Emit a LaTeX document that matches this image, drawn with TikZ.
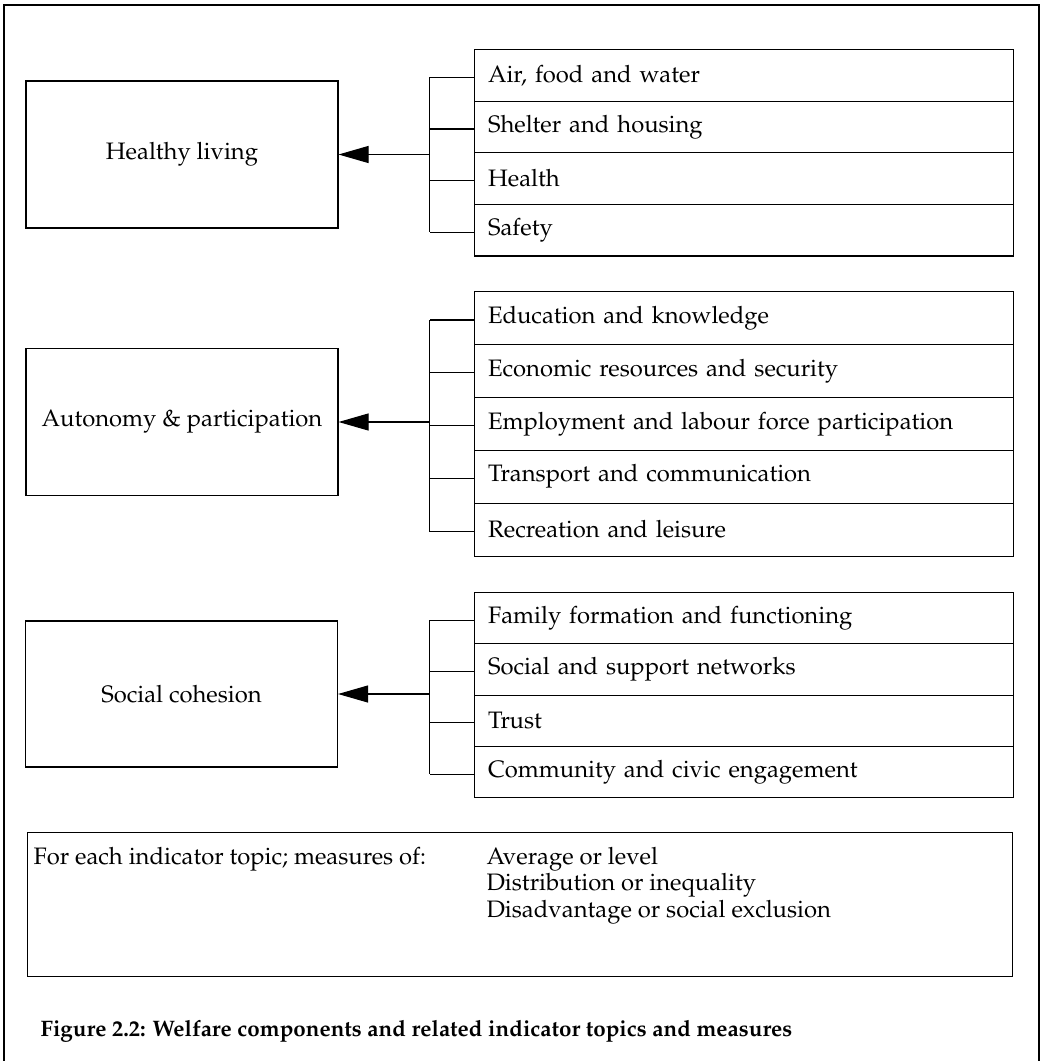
\documentclass[tikz,border=0pt]{standalone}
\usepackage[T1]{fontenc}
\usepackage{mathpazo}
\usetikzlibrary{arrows.meta}

\begin{document}
\begin{tikzpicture}[x=1pt, y=-1pt, line width=1.1pt,
        font=\fontsize{23.8}{26.5}\selectfont,
        component/.style={draw, minimum width=312pt, minimum height=147pt, inner sep=0pt},
        topic/.style={draw, anchor=north west, text width=511pt, inner xsep=14pt, inner ysep=0pt, align=left},
        feed/.style={-{Triangle[length=30pt, width=17pt]}}]
    \useasboundingbox (0, 0) rectangle (1042, 1061);
    % outer frame, cut off at the bottom
    \draw (4, 1061) -- (4, 5) -- (1039, 5) -- (1039, 1061);

    % healthy living
    \node[component] (hl) at (182, 154.5) {Healthy living};
    \coordinate (hlb) at (429.5, 154.5);
    \foreach \txt [count=\i] in {{Air, food and water}, Shelter and housing, Health, Safety} {
        \node[topic, minimum height=51.6pt] (hl\i) at (473.5, {49 + (\i - 1) * 51.6}) {\txt};
        \coordinate (hlt\i) at ([yshift=-2pt]hl\i.west);
        \draw (hlt\i) -- (hlt\i -| hlb);
    }
    \draw (hlt1 -| hlb) -- (hlt4 -| hlb);
    \draw[feed] (hlb) -- (hl.east);

    % autonomy and participation
    \node[component] (ap) at (182, 422) {Autonomy \& participation};
    \coordinate (apb) at (429.5, 422);
    \foreach \txt [count=\i] in {Education and knowledge, Economic resources and security,
            Employment and labour force participation, Transport and communication, Recreation and leisure} {
        \node[topic, minimum height=52.9pt] (ap\i) at (473.5, {291 + (\i - 1) * 52.9}) {\txt};
        \coordinate (apt\i) at ([yshift=-2pt]ap\i.west);
        \draw (apt\i) -- (apt\i -| apb);
    }
    \draw (apt1 -| apb) -- (apt5 -| apb);
    \draw[feed] (apb) -- (ap.east);

    % social cohesion
    \node[component, minimum height=146pt] (sc) at (181.5, 694) {Social cohesion};
    \coordinate (scb) at (429.5, 694);
    \foreach \txt [count=\i] in {Family formation and functioning, Social and support networks, Trust,
            Community and civic engagement} {
        \node[topic, minimum height=51.3pt] (sc\i) at (473.5, {592 + (\i - 1) * 51.3}) {\txt};
        \coordinate (sct\i) at ([yshift=-2pt]sc\i.west);
        \draw (sct\i) -- (sct\i -| scb);
    }
    \draw (sct1 -| scb) -- (sct4 -| scb);
    \draw[feed] (scb) -- (sc.east);

    % measures
    \node[draw, anchor=north west, minimum width=985pt, minimum height=144pt] (measures) at (27, 832) {};
    \node[anchor=base west, inner sep=0pt] (each) at (33, 864) {For each indicator topic; measures of:};
    \node[anchor=north west, inner sep=0pt, align=left] (kinds) at (486, 846.5)
        {Average or level\\Distribution or inequality\\Disadvantage or social exclusion};

    \node[anchor=west, inner sep=0pt, font=\fontsize{22.4}{26}\selectfont\bfseries] (caption) at (40, 1031)
        {Figure 2.2: Welfare components and related indicator topics and measures};
\end{tikzpicture}
\end{document}
